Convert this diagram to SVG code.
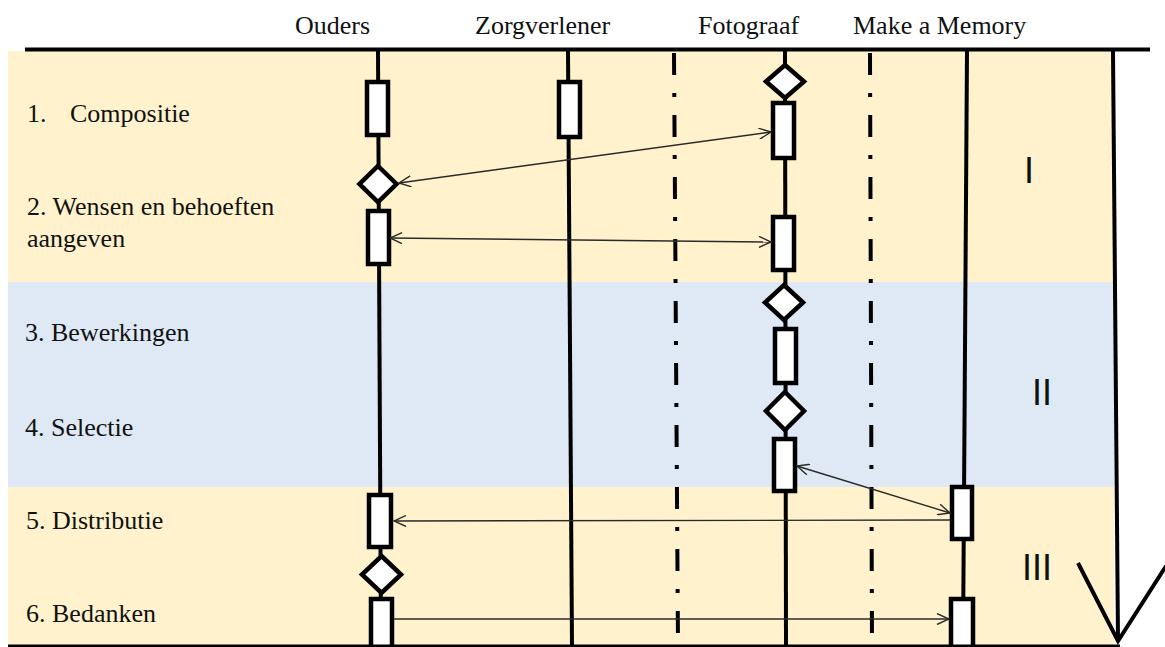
<svg xmlns="http://www.w3.org/2000/svg" width="1165" height="647" viewBox="0 0 1165 647">
  <defs>
    <style>
      .hdr { font-family: "Liberation Serif", "Times New Roman", serif; font-size: 26px; fill: #111; }
      .lbl { font-family: "Liberation Serif", "Times New Roman", serif; font-size: 26px; fill: #111; }
      .phase { font-family: "Liberation Sans", Arial, sans-serif; font-size: 36px; fill: #111; }
      .life { stroke: #000; stroke-width: 4; fill: none; }
      .dashdot { stroke: #000; stroke-width: 4; fill: none; stroke-dasharray: 22 18 4 18; }
      .act { fill: #fff; stroke: #000; stroke-width: 4.5; }
      .dec { fill: #fff; stroke: #000; stroke-width: 4.5; stroke-linejoin: miter; }
      .msg { stroke: #2a2a2a; stroke-width: 1.4; fill: none; }
      .frame { stroke: #000; fill: none; }
    </style>
    <marker id="open" viewBox="0 0 14 12" refX="13" refY="6" markerWidth="14" markerHeight="12" markerUnits="userSpaceOnUse" orient="auto-start-reverse">
      <path d="M1,0.5 L13,6 L1,11.5" fill="none" stroke="#2a2a2a" stroke-width="1.4"/>
    </marker>
  </defs>

  <!-- phase bands -->
  <g id="bands">
    <rect x="8" y="51" width="1106" height="595" fill="#FFF2CC"/>
    <rect x="8" y="282" width="1106" height="205" fill="#DEE9F5"/>
  </g>

  <!-- frame: header rule, right edge and check mark -->
  <g id="frame">
    <line class="frame" x1="25" y1="49.5" x2="1150" y2="49.5" stroke-width="4"/>
    <line class="frame" x1="1113" y1="51" x2="1118" y2="641" stroke-width="4"/>
    <polyline class="frame" points="1078,563 1118,641 1166,566" stroke-width="4"/>
  </g>

  <!-- column headers -->
  <g id="headers">
    <text class="hdr" x="295" y="34">Ouders</text>
    <text class="hdr" x="475" y="34">Zorgverlener</text>
    <text class="hdr" x="698" y="34">Fotograaf</text>
    <text class="hdr" x="853" y="34">Make a Memory</text>
  </g>

  <!-- step labels -->
  <g id="steps">
    <text class="lbl" x="27" y="122">1.</text>
    <text class="lbl" x="70" y="122">Compositie</text>
    <text class="lbl" x="27" y="215">2. Wensen en behoeften</text>
    <text class="lbl" x="27" y="247">aangeven</text>
    <text class="lbl" x="25" y="341">3. Bewerkingen</text>
    <text class="lbl" x="25" y="436">4. Selectie</text>
    <text class="lbl" x="26" y="529">5. Distributie</text>
    <text class="lbl" x="26" y="622">6. Bedanken</text>
  </g>

  <!-- phase numerals -->
  <g id="phases">
    <text class="phase" x="1024" y="183">I</text>
    <text class="phase" x="1032" y="405">II</text>
    <text class="phase" x="1022" y="580">III</text>
  </g>

  <!-- lifelines -->
  <g id="lifelines">
    <line class="life" x1="378" y1="51" x2="381" y2="646"/>
    <line class="life" x1="568" y1="51" x2="572" y2="646"/>
    <line class="life" x1="785" y1="51" x2="786" y2="646"/>
    <line class="life" x1="967" y1="51" x2="963" y2="646"/>
    <line class="dashdot" x1="674" y1="53" x2="678" y2="646"/>
    <line class="dashdot" x1="870" y1="53" x2="872" y2="646"/>
  </g>

  <!-- Ouders -->
  <g id="ouders">
    <rect class="act" x="367" y="82" width="21" height="53"/>
    <path class="dec" d="M378,166 L396.5,184 L378,202 L359.5,184 Z"/>
    <rect class="act" x="368" y="211" width="21" height="53"/>
    <rect class="act" x="369" y="495" width="22" height="52"/>
    <path class="dec" d="M381.5,556 L401,574.5 L381.5,593 L362,574.5 Z"/>
    <rect class="act" x="371" y="599" width="21" height="50"/>
  </g>

  <!-- Zorgverlener -->
  <g id="zorgverlener">
    <rect class="act" x="559" y="82" width="21" height="55"/>
  </g>

  <!-- Fotograaf -->
  <g id="fotograaf">
    <path class="dec" d="M785,65 L804,81.5 L785,98 L766,81.5 Z"/>
    <rect class="act" x="773" y="103" width="21" height="55"/>
    <rect class="act" x="773" y="217" width="21" height="53"/>
    <path class="dec" d="M784,285 L803,302.5 L784,320 L765,302.5 Z"/>
    <rect class="act" x="775" y="329" width="21" height="54"/>
    <path class="dec" d="M785,392 L804,411 L785,430 L766,411 Z"/>
    <rect class="act" x="774" y="439" width="21" height="52"/>
  </g>

  <!-- Make a Memory -->
  <g id="make-a-memory">
    <rect class="act" x="952" y="487" width="20" height="52"/>
    <rect class="act" x="951" y="599" width="22" height="50"/>
  </g>

  <!-- messages -->
  <g id="connectors">
    <line class="msg" x1="399" y1="183" x2="771" y2="132" marker-start="url(#open)" marker-end="url(#open)"/>
    <line class="msg" x1="390" y1="238" x2="771" y2="242" marker-start="url(#open)" marker-end="url(#open)"/>
    <line class="msg" x1="797" y1="466" x2="950" y2="513" marker-start="url(#open)" marker-end="url(#open)"/>
    <line class="msg" x1="950" y1="520" x2="394" y2="521" marker-end="url(#open)"/>
    <line class="msg" x1="394" y1="619" x2="949" y2="619" marker-end="url(#open)"/>
  </g>

  <!-- bottom rule, drawn over the lifeline ends -->
  <g id="base-rule">
    <line class="frame" x1="8" y1="646" x2="1120" y2="646" stroke-width="3"/>
  </g>
</svg>
